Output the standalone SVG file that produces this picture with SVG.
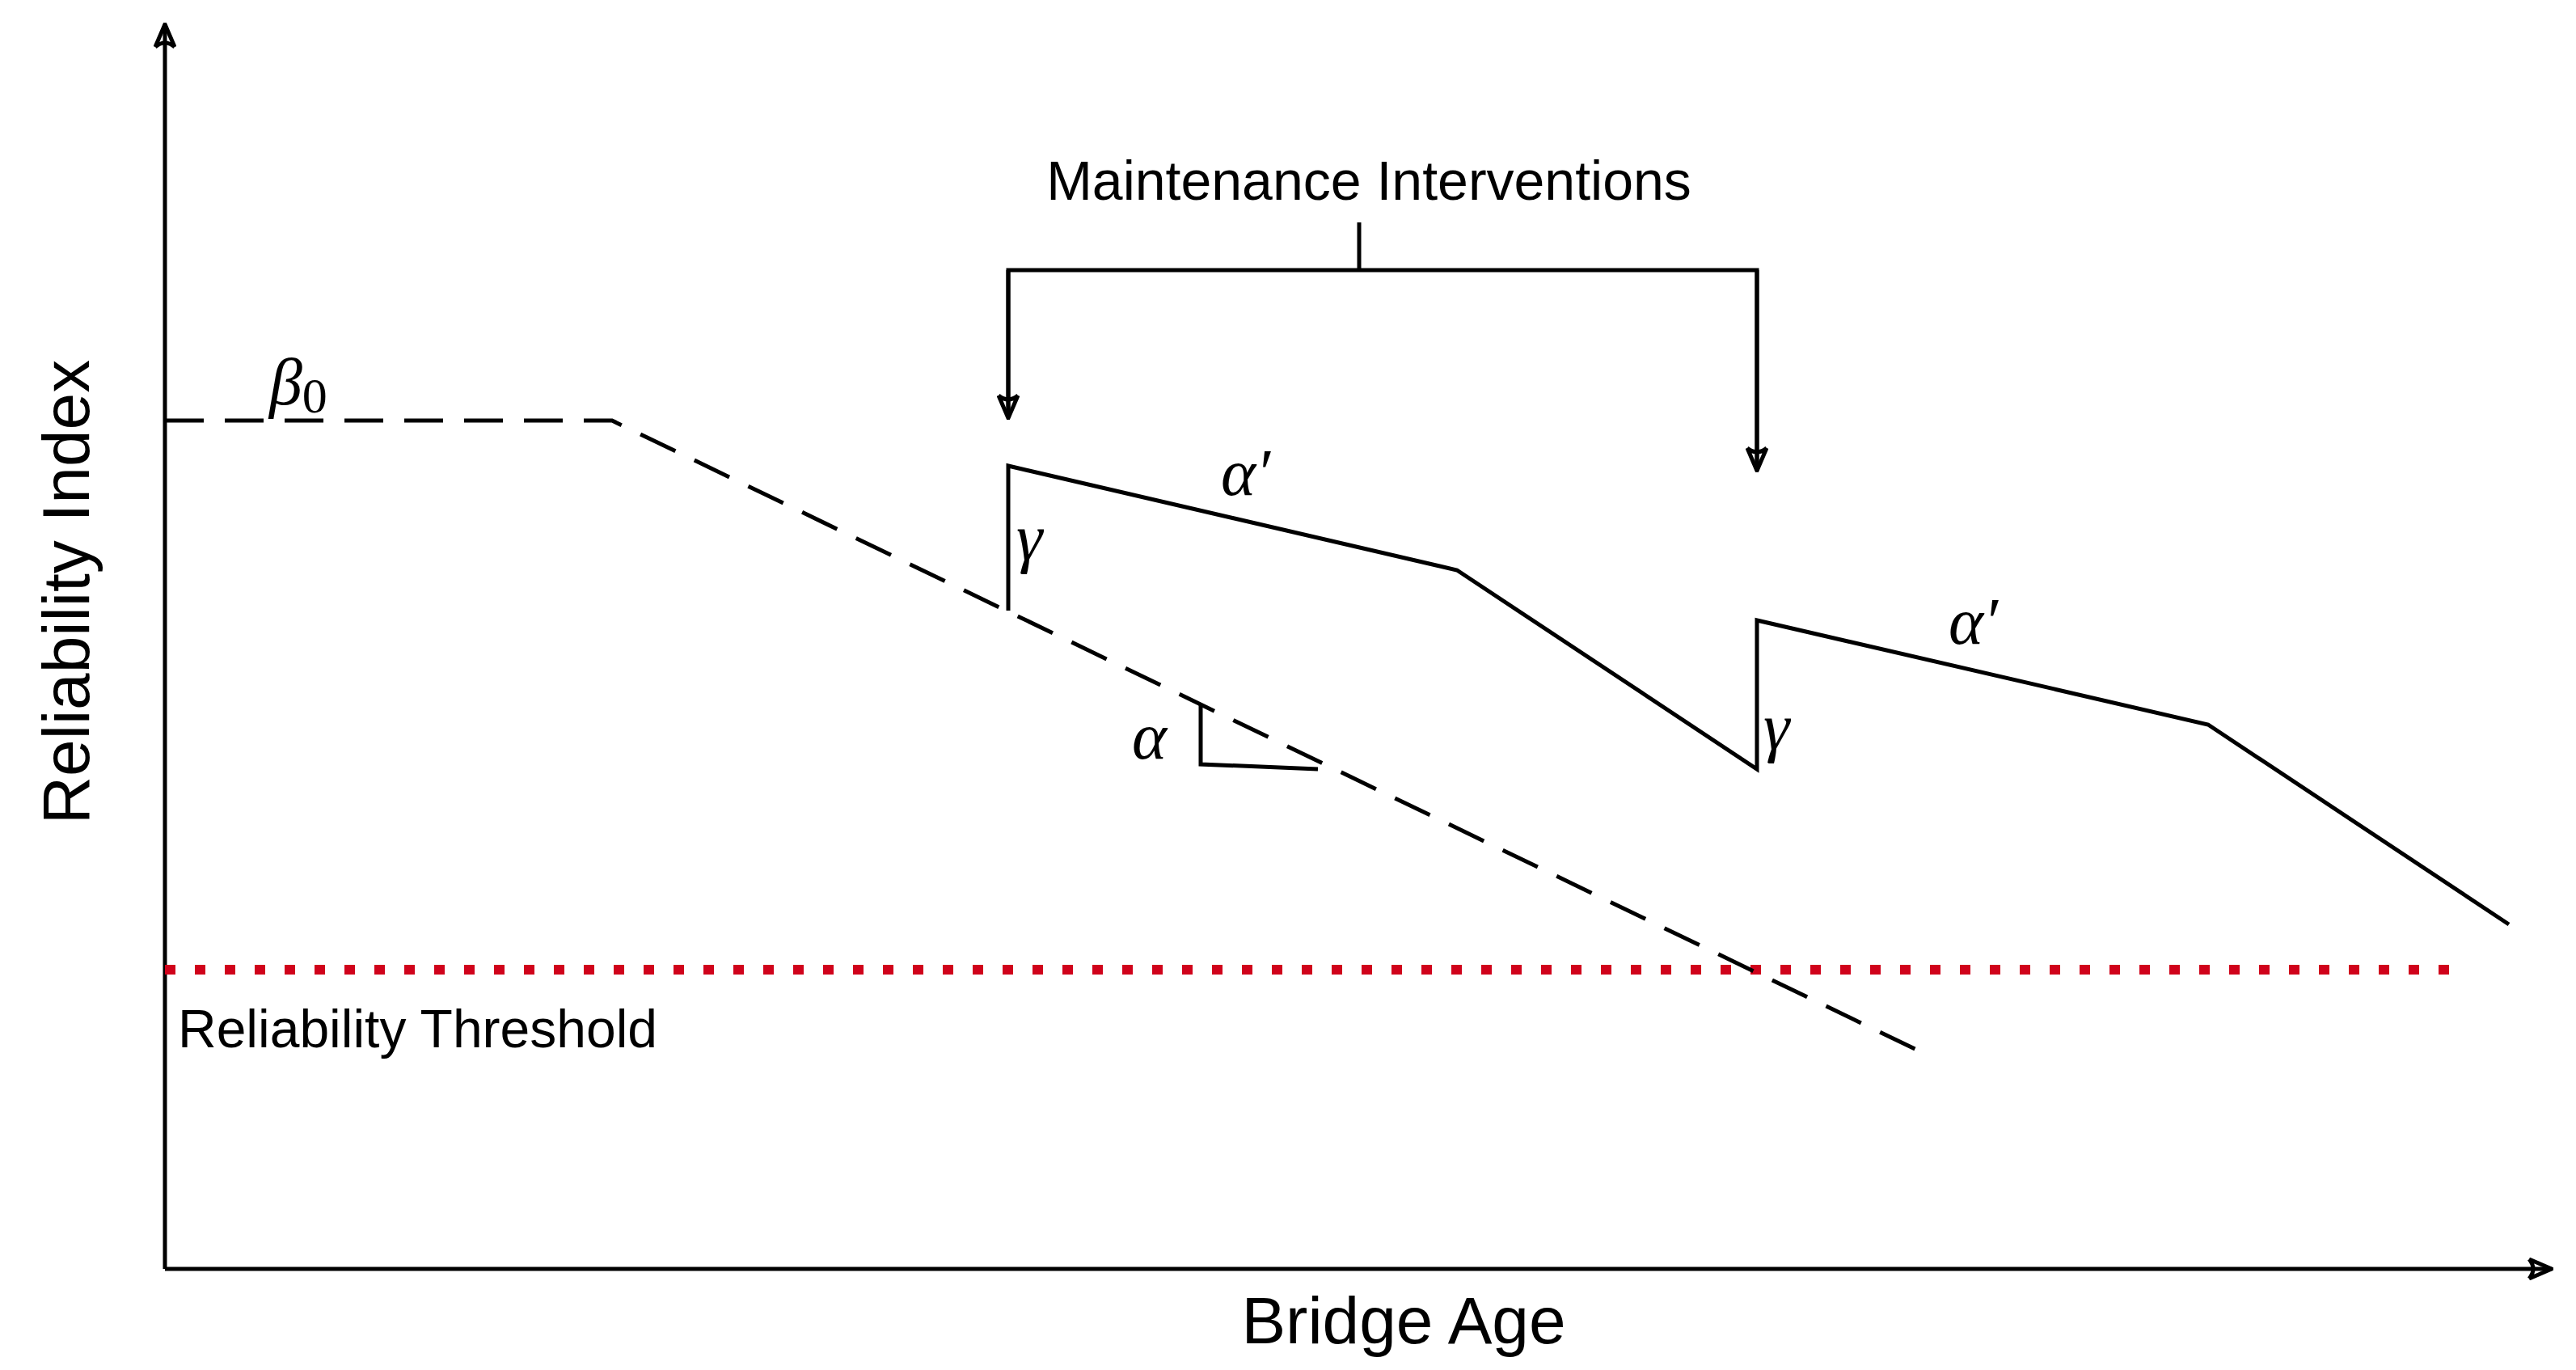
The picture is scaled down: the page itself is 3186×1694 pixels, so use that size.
<svg xmlns="http://www.w3.org/2000/svg" width="3186" height="1694" viewBox="0 0 3186 1694">
<style>
.s{fill:none;stroke:#000;stroke-width:5}
.d{fill:none;stroke:#000;stroke-width:5;stroke-dasharray:48 26}
.t{font-family:"Liberation Sans",Arial,sans-serif;fill:#000}
.g{font-family:"Liberation Serif","DejaVu Serif",serif;font-style:italic;fill:#000;font-size:82px}
</style>
<defs>
<marker id="ah" viewBox="-30 -14 32 28" markerWidth="32" markerHeight="28" refX="0" refY="0" orient="auto" markerUnits="userSpaceOnUse">
<path d="M-28,-12 L0,0 L-28,12 M-28,-12 Q-18,0 -28,12" fill="none" stroke="#000" stroke-width="5"/>
</marker>
</defs>
<g id="axes">
<line class="s" x1="204" y1="1569" x2="204" y2="30" marker-end="url(#ah)"/>
<line class="s" x1="204" y1="1569" x2="3156" y2="1569" marker-end="url(#ah)"/>
</g>
<g id="threshold">
<line x1="204" y1="1199" x2="3040" y2="1199" stroke="#d0021b" stroke-width="12" stroke-dasharray="13 24"/>
</g>
<g id="curves">
<polyline class="d" points="204,520 757,520 2389,1307"/>
<polyline class="s" points="1247,755 1247,576 1802,705 2173,951 2173,767 2731,896 3103,1143"/>
<polyline class="s" points="1485,871 1485,945 1630,951"/>
</g>
<g id="connectors">
<polyline class="s" points="1247,517 1247,334 2173,334 2173,580"/>
<line class="s" x1="1681" y1="275" x2="1681" y2="334"/>
<line class="s" x1="1247" y1="334" x2="1247" y2="517" marker-end="url(#ah)"/>
<line class="s" x1="2173" y1="334" x2="2173" y2="582" marker-end="url(#ah)"/>
</g>
<g id="labels">
<text class="t" x="1693" y="247" font-size="68" text-anchor="middle">Maintenance Interventions</text>
<text class="t" x="220" y="1295" font-size="66">Reliability Threshold</text>
<text class="t" x="1736" y="1661" font-size="82" text-anchor="middle">Bridge Age</text>
<text class="t" transform="translate(110,732) rotate(-90)" font-size="82" text-anchor="middle">Reliability Index</text>
<text class="g" x="333" y="500">β<tspan font-style="normal" font-size="62" dy="10">0</tspan></text>
<text class="g" x="1510" y="612">α′</text>
<text class="g" x="2410" y="796">α′</text>
<text class="g" x="1257" y="692">γ</text>
<text class="g" x="2181" y="926">γ</text>
<text class="g" x="1400" y="938">α</text>
</g>
</svg>
